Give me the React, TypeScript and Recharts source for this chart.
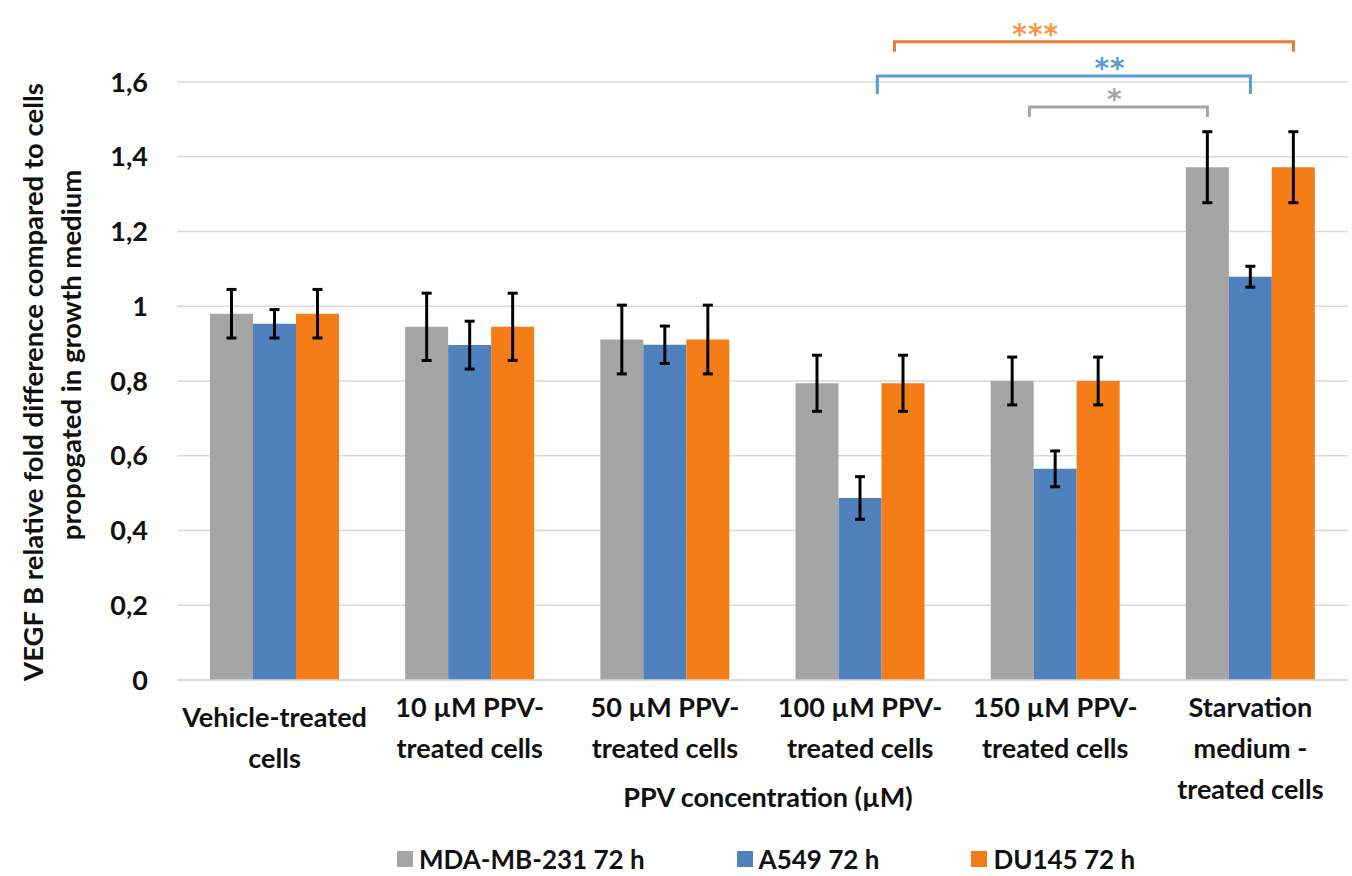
import React from "react";
import { BarChart, Bar, XAxis, YAxis, CartesianGrid, ErrorBar } from "recharts";

const categories = [
  "Vehicle-treated\ncells",
  "10 µM PPV-\ntreated cells",
  "50 µM PPV-\ntreated cells",
  "100 µM PPV-\ntreated cells",
  "150 µM PPV-\ntreated cells",
  "Starvation\nmedium -\ntreated cells",
];

const mdaValues = [0.98, 0.945, 0.911, 0.794, 0.8, 1.372];
const mdaErrors = [0.065, 0.09, 0.092, 0.075, 0.064, 0.095];
const a549Values = [0.953, 0.896, 0.897, 0.487, 0.565, 1.079];
const a549Errors = [0.038, 0.064, 0.05, 0.057, 0.048, 0.028];
const du145Values = [0.98, 0.945, 0.911, 0.794, 0.8, 1.372];
const du145Errors = [0.065, 0.09, 0.092, 0.075, 0.064, 0.095];

const seriesNames = ["MDA-MB-231 72 h", "A549 72 h", "DU145 72 h"];
const seriesColors = ["#A5A5A5", "#4F81BD", "#F47D17"];
const yTicks = [0, 0.2, 0.4, 0.6, 0.8, 1, 1.2, 1.4, 1.6];

// significance brackets (category index + bar offset, height in data units)
const brackets = [
  { label: "***", color: "#ED7D31", textColor: "#F79646", fromCat: 3, fromBar: 0.8, toCat: 5, toBar: 1, level: 1.708, drop: 10, starAt: 0.354 },
  { label: "**", color: "#5B9BD5", textColor: "#5B9BD5", fromCat: 3, fromBar: 0.4, toCat: 5, toBar: 0, level: 1.616, drop: 18, starAt: 0.624 },
  { label: "*", color: "#A5A5A5", textColor: "#A5A5A5", fromCat: 4, fromBar: -0.6, toCat: 5, toBar: -1, level: 1.533, drop: 10, starAt: 0.48 },
];

const W = 1352;
const H = 876;
const margin = { top: 82, right: 4, bottom: 96, left: 80 };
const yAxisWidth = 97;
const xAxisHeight = 100;
const yMax = 1.6;
const catGap = 33;

const plotLeft = margin.left + yAxisWidth;
const plotRight = W - margin.right;
const plotTop = margin.top;
const plotBottom = H - margin.bottom - xAxisHeight;
const band = (plotRight - plotLeft) / categories.length;
const barSize = Math.floor((band - 2 * catGap) / 3);

const FONT = "Lato, 'Open Sans', sans-serif";
const TEXT = "#111";

const data = categories.map((c, i) => ({
  name: c,
  mda: mdaValues[i],
  mdaErr: mdaErrors[i],
  a549: a549Values[i],
  a549Err: a549Errors[i],
  du145: du145Values[i],
  du145Err: du145Errors[i],
}));

function xOf(cat: number, bar: number) {
  return plotLeft + (cat + 0.5) * band + bar * barSize;
}

function yOf(v: number) {
  return plotTop + (1 - v / yMax) * (plotBottom - plotTop);
}

function CategoryTick(props: any) {
  const { x, y, payload, index } = props;
  const lines = String(payload.value).split("\n");
  // the first label sits a little lower in the original
  const shift = index === 0 ? 10 : 0;
  return (
    <g>
      {lines.map((line: string, i: number) => (
        <text
          key={i}
          x={x}
          y={y + 35 + shift + i * 41}
          textAnchor="middle"
          fontFamily={FONT}
          fontWeight={700}
          fontSize={27}
          fill={TEXT}
        >
          {line}
        </text>
      ))}
    </g>
  );
}

export default function App() {
  return (
    <div style={{ position: "absolute", left: 0, top: 0, width: W, height: H, background: "#fff", overflow: "hidden" }}>
      <BarChart
        width={W}
        height={H}
        data={data}
        margin={margin}
        barCategoryGap={catGap}
        barGap={0}
      >
        <CartesianGrid vertical={false} stroke="#D9D9D9" strokeWidth={1.5} />
        <XAxis
          dataKey="name"
          height={xAxisHeight}
          tick={<CategoryTick />}
          tickLine={false}
          tickSize={0}
          axisLine={{ stroke: "#D9D9D9", strokeWidth: 1.5 }}
          interval={0}
        />
        <YAxis
          width={yAxisWidth}
          domain={[0, yMax]}
          ticks={yTicks}
          tickFormatter={(v) => String(v).replace(".", ",")}
          tick={{ fontFamily: FONT, fontWeight: 700, fontSize: 27, fill: TEXT }}
          tickLine={false}
          tickSize={0}
          tickMargin={29}
          axisLine={false}
        />
        <Bar dataKey="mda" name={seriesNames[0]} fill={seriesColors[0]} isAnimationActive={false}>
          <ErrorBar dataKey="mdaErr" stroke="#000" strokeWidth={3} width={5} />
        </Bar>
        <Bar dataKey="a549" name={seriesNames[1]} fill={seriesColors[1]} isAnimationActive={false}>
          <ErrorBar dataKey="a549Err" stroke="#000" strokeWidth={3} width={5} />
        </Bar>
        <Bar dataKey="du145" name={seriesNames[2]} fill={seriesColors[2]} isAnimationActive={false}>
          <ErrorBar dataKey="du145Err" stroke="#000" strokeWidth={3} width={5} />
        </Bar>
      </BarChart>

      <svg
        width={W}
        height={H}
        style={{ position: "absolute", left: 0, top: 0, pointerEvents: "none" }}
      >
        {brackets.map((b, i) => {
          const x1 = xOf(b.fromCat, b.fromBar);
          const x2 = xOf(b.toCat, b.toBar);
          const y = yOf(b.level);
          return (
            <g key={i}>
              <path
                d={`M${x1},${y + b.drop} L${x1},${y} L${x2},${y} L${x2},${y + b.drop}`}
                fill="none"
                stroke={b.color}
                strokeWidth={3}
              />
              <text
                x={x1 + (x2 - x1) * b.starAt}
                y={y + 2}
                textAnchor="middle"
                fontFamily="'DejaVu Sans', sans-serif"
                fontWeight={700}
                fontSize={28}
                letterSpacing={1}
                fill={b.textColor}
              >
                {b.label}
              </text>
            </g>
          );
        })}
        <text
          transform="translate(32, 382) rotate(-90)"
          textAnchor="middle"
          dominantBaseline="central"
          fontFamily={FONT}
          fontWeight={700}
          fontSize={27.5}
          fill={TEXT}
        >
          VEGF B relative fold difference compared to cells
        </text>
        <text
          transform="translate(70, 355) rotate(-90)"
          textAnchor="middle"
          dominantBaseline="central"
          fontFamily={FONT}
          fontWeight={700}
          fontSize={27.5}
          fill={TEXT}
        >
          propogated in growth medium
        </text>
        <text
          x={768}
          y={807}
          textAnchor="middle"
          fontFamily={FONT}
          fontWeight={700}
          fontSize={27}
          fill={TEXT}
        >
          PPV concentration (µM)
        </text>
      </svg>

      <div
        style={{
          position: "absolute",
          left: 397,
          top: 846,
          display: "flex",
          alignItems: "center",
          gap: 92,
          fontFamily: FONT,
          fontWeight: 700,
          fontSize: 26,
          lineHeight: "26px",
          color: TEXT,
          whiteSpace: "nowrap",
        }}
      >
        {seriesNames.map((n, i) => (
          <div key={n} style={{ display: "flex", alignItems: "center", gap: 6 }}>
            <span style={{ width: 16, height: 16, background: seriesColors[i], display: "inline-block" }} />
            <span>{n}</span>
          </div>
        ))}
      </div>
    </div>
  );
}
